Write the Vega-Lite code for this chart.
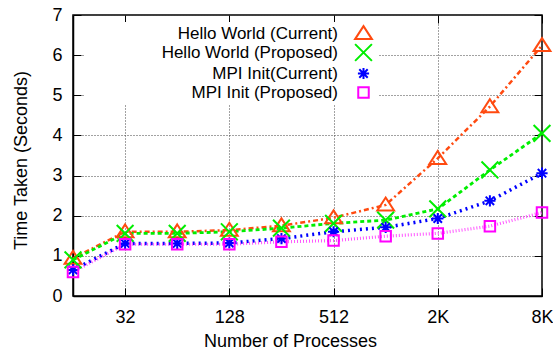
{
  "$schema": "https://vega.github.io/schema/vega-lite/v6.json",
  "width": 469,
  "height": 281,
  "autosize": "none",
  "padding": {"left": 73, "top": 15, "right": 11, "bottom": 55},
  "background": "white",
  "config": {
    "font": "Liberation Sans",
    "view": {"stroke": "black", "strokeWidth": 1.5},
    "axis": {"labelFont": "Liberation Sans", "titleFont": "Liberation Sans", "labelColor": "black", "titleColor": "black"}
  },
  "data": {
    "values": [
      {"procs": 16, "series": "Hello World (Current)", "time": 0.94},
      {"procs": 32, "series": "Hello World (Current)", "time": 1.6},
      {"procs": 64, "series": "Hello World (Current)", "time": 1.6},
      {"procs": 128, "series": "Hello World (Current)", "time": 1.64},
      {"procs": 256, "series": "Hello World (Current)", "time": 1.75},
      {"procs": 512, "series": "Hello World (Current)", "time": 1.95},
      {"procs": 1024, "series": "Hello World (Current)", "time": 2.27},
      {"procs": 2048, "series": "Hello World (Current)", "time": 3.43},
      {"procs": 4096, "series": "Hello World (Current)", "time": 4.72},
      {"procs": 8192, "series": "Hello World (Current)", "time": 6.24},
      {"procs": 16, "series": "Hello World (Proposed)", "time": 0.9},
      {"procs": 32, "series": "Hello World (Proposed)", "time": 1.56},
      {"procs": 64, "series": "Hello World (Proposed)", "time": 1.56},
      {"procs": 128, "series": "Hello World (Proposed)", "time": 1.6},
      {"procs": 256, "series": "Hello World (Proposed)", "time": 1.69},
      {"procs": 512, "series": "Hello World (Proposed)", "time": 1.81},
      {"procs": 1024, "series": "Hello World (Proposed)", "time": 1.89},
      {"procs": 2048, "series": "Hello World (Proposed)", "time": 2.17},
      {"procs": 4096, "series": "Hello World (Proposed)", "time": 3.14},
      {"procs": 8192, "series": "Hello World (Proposed)", "time": 4.05},
      {"procs": 16, "series": "MPI Init(Current)", "time": 0.65},
      {"procs": 32, "series": "MPI Init(Current)", "time": 1.31},
      {"procs": 64, "series": "MPI Init(Current)", "time": 1.31},
      {"procs": 128, "series": "MPI Init(Current)", "time": 1.32},
      {"procs": 256, "series": "MPI Init(Current)", "time": 1.43},
      {"procs": 512, "series": "MPI Init(Current)", "time": 1.6},
      {"procs": 1024, "series": "MPI Init(Current)", "time": 1.71},
      {"procs": 2048, "series": "MPI Init(Current)", "time": 1.93},
      {"procs": 4096, "series": "MPI Init(Current)", "time": 2.37},
      {"procs": 8192, "series": "MPI Init(Current)", "time": 3.06},
      {"procs": 16, "series": "MPI Init (Proposed)", "time": 0.6},
      {"procs": 32, "series": "MPI Init (Proposed)", "time": 1.29},
      {"procs": 64, "series": "MPI Init (Proposed)", "time": 1.29},
      {"procs": 128, "series": "MPI Init (Proposed)", "time": 1.29},
      {"procs": 256, "series": "MPI Init (Proposed)", "time": 1.35},
      {"procs": 512, "series": "MPI Init (Proposed)", "time": 1.38},
      {"procs": 1024, "series": "MPI Init (Proposed)", "time": 1.49},
      {"procs": 2048, "series": "MPI Init (Proposed)", "time": 1.56},
      {"procs": 4096, "series": "MPI Init (Proposed)", "time": 1.74},
      {"procs": 8192, "series": "MPI Init (Proposed)", "time": 2.08}
    ]
  },
  "layer": [
    {
      "encoding": {
        "x": {
          "field": "procs", "type": "quantitative",
          "scale": {"type": "log", "base": 2, "domain": [16, 8192], "nice": false},
          "axis": {
            "orient": "bottom",
            "title": "Number of Processes",
            "values": [32, 128, 512, 2048, 8192],
            "labelExpr": "datum.value >= 1024 ? (datum.value / 1024) + 'K' : datum.value",
            "labelFontSize": 18, "labelPadding": 20, "labelFlush": false,
            "tickSize": -8, "tickColor": "black", "tickWidth": 1,
            "domainColor": "black", "domainWidth": 1.5,
            "grid": true, "gridColor": "#444", "gridDash": [1, 2], "gridWidth": 1,
            "titleFontSize": 18, "titleFontWeight": "normal",
            "titleX": 217, "titleY": 50, "titleAlign": "center", "titleBaseline": "alphabetic"
          }
        },
        "y": {
          "field": "time", "type": "quantitative",
          "scale": {"domain": [0, 7], "nice": false},
          "axis": {
            "orient": "left",
            "title": "Time Taken (Seconds)",
            "values": [0, 1, 2, 3, 4, 5, 6, 7],
            "labelFontSize": 18, "labelPadding": 19,
            "tickSize": -8, "tickColor": "black", "tickWidth": 1,
            "domainColor": "black", "domainWidth": 1.5,
            "grid": true, "gridColor": "#444", "gridDash": [1, 2], "gridWidth": 1,
            "titleFontSize": 18, "titleFontWeight": "normal",
            "titleAngle": -90, "titleX": -52, "titleY": 145, "titleAlign": "center", "titleBaseline": "middle"
          }
        }
      },
      "layer": [
        {
          "mark": {"type": "line"},
          "encoding": {
            "stroke": {
              "field": "series", "type": "nominal",
              "scale": {"range": ["#ff4a10", "#00ee00", "#ff55ff", "#0000ff"]},
              "legend": null
            },
            "strokeDash": {
              "field": "series", "type": "nominal",
              "scale": {"range": [[5, 3, 2, 3], [4, 3], [1, 2], [2, 4]]},
              "legend": null
            },
            "strokeWidth": {
              "field": "series", "type": "nominal",
              "scale": {"range": [2.5, 3.5, 1.5, 2.5]},
              "legend": null
            }
          }
        },
        {
          "mark": {"type": "point", "filled": false, "strokeWidth": 2, "size": 196, "opacity": 1},
          "encoding": {
            "color": {
              "field": "series", "type": "nominal",
              "scale": {
                "domain": ["Hello World (Current)", "Hello World (Proposed)", "MPI Init(Current)", "MPI Init (Proposed)"],
                "range": ["#ff4a10", "#00ee00", "#0000ff", "#ff00ff"]
              },
              "legend": {
                "title": null, "orient": "none", "legendX": 11, "legendY": 7,
                "fillColor": "white", "padding": 3,
                "labelFont": "Liberation Sans", "labelFontSize": 17, "labelColor": "black",
                "labelAlign": "right", "labelLimit": 400, "labelOffset": -34,
                "symbolOffset": 268, "symbolSize": 196, "symbolStrokeWidth": 2,
                "rowPadding": -5
              }
            },
            "shape": {
              "field": "series", "type": "nominal",
              "scale": {
                "domain": ["Hello World (Current)", "Hello World (Proposed)", "MPI Init(Current)", "MPI Init (Proposed)"],
                "range": [
                  "M0,-1.05L1.2,0.8L-1.2,0.8Z",
                  "M-1.2,-1.2L1.2,1.2M-1.2,1.2L1.2,-1.2",
                  "M-0.8,0L0.8,0M0,-0.8L0,0.8M-0.6,-0.6L0.6,0.6M-0.6,0.6L0.6,-0.6",
                  "M-0.75,-0.75L0.75,-0.75L0.75,0.75L-0.75,0.75Z"
                ]
              }
            }
          }
        }
      ]
    },
    {
      "mark": {"type": "point", "opacity": 0},
      "encoding": {
        "x": {
          "field": "procs", "type": "quantitative",
          "scale": {"type": "log", "base": 2, "domain": [16, 8192], "nice": false},
          "axis": {"orient": "top", "title": null, "labels": false, "values": [32, 128, 512, 2048, 8192], "tickSize": -8, "tickColor": "black", "domain": false, "grid": false}
        },
        "y": {
          "field": "time", "type": "quantitative",
          "scale": {"domain": [0, 7], "nice": false},
          "axis": {"orient": "right", "title": null, "labels": false, "values": [0, 1, 2, 3, 4, 5, 6, 7], "tickSize": -8, "tickColor": "black", "domain": false, "grid": false}
        }
      }
    }
  ],
  "resolve": {"axis": {"x": "independent", "y": "independent"}}
}
